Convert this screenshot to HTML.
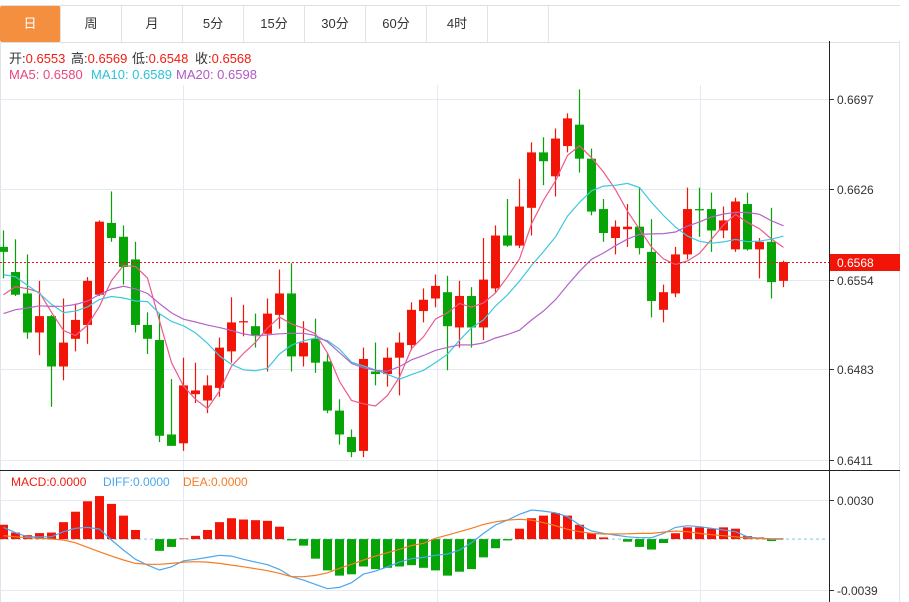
<!DOCTYPE html>
<html><head><meta charset="utf-8"><style>
html,body{margin:0;padding:0;background:#fff;}
body{width:909px;height:602px;overflow:hidden;position:relative;font-family:"Liberation Sans","Noto Sans CJK SC",sans-serif;}
.tabs{position:absolute;left:0;top:5px;width:900px;height:36px;border-top:1px solid #e0e0e0;border-bottom:1px solid #e0e0e0;}
.tab{position:absolute;top:0;height:36px;width:61px;line-height:35px;text-align:center;font-size:13px;color:#333;border-right:1px solid #e3e3e3;box-sizing:border-box;}
.tab.active{background:#f38f3f;color:#fff;border-radius:2px;}
.it{position:absolute;font-size:13px;white-space:nowrap;line-height:16px;}
.lb{color:#333}.rv{color:#f21c12}
svg{position:absolute;left:0;top:0;}
</style></head><body>
<div class="tabs">
<div class="tab active" style="left:0">日</div>
<div class="tab" style="left:61px">周</div>
<div class="tab" style="left:122px">月</div>
<div class="tab" style="left:183px">5分</div>
<div class="tab" style="left:244px">15分</div>
<div class="tab" style="left:305px">30分</div>
<div class="tab" style="left:366px">60分</div>
<div class="tab" style="left:427px">4时</div>
<div class="tab" style="left:488px"></div>
</div>
<svg id="chart" width="909" height="602"></svg>
<div>
<div class="it" style="left:9px;top:51px"><span class="lb">开:</span><span class="rv">0.6553</span></div>
<div class="it" style="left:71px;top:51px"><span class="lb">高:</span><span class="rv">0.6569</span></div>
<div class="it" style="left:132px;top:51px"><span class="lb">低:</span><span class="rv">0.6548</span></div>
<div class="it" style="left:195px;top:51px"><span class="lb">收:</span><span class="rv">0.6568</span></div>
</div>
<div>
<div class="it" style="left:9px;top:67px;color:#e8467c">MA5: 0.6580</div>
<div class="it" style="left:91px;top:67px;color:#2bc3d8">MA10: 0.6589</div>
<div class="it" style="left:176px;top:67px;color:#b05ac4">MA20: 0.6598</div>
</div>
<div>
<div class="it" style="left:11px;top:474px;font-size:12px;color:#f21c12">MACD:0.0000</div>
<div class="it" style="left:103px;top:474px;font-size:12px;color:#4aa6f0">DIFF:0.0000</div>
<div class="it" style="left:183px;top:474px;font-size:12px;color:#f57c22">DEA:0.0000</div>
</div>
<script>
const opens=[0.6580,0.6560,0.6543,0.6512,0.6525,0.6485,0.6507,0.6518,0.6542,0.6599,0.6588,0.6570,0.6518,0.6506,0.6431,0.6424,0.6463,0.6458,0.6468,0.6497,0.6520,0.6517,0.6511,0.6526,0.6543,0.6493,0.6507,0.6489,0.6450,0.6429,0.6418,0.6481,0.6479,0.6492,0.6502,0.6529,0.6539,0.6544,0.6516,0.6541,0.6516,0.6547,0.6589,0.6581,0.6611,0.6655,0.6636,0.6660,0.6677,0.6650,0.6610,0.6587,0.6594,0.6596,0.6576,0.6530,0.6543,0.6574,0.6610,0.6610,0.6593,0.6578,0.6614,0.6578,0.6584,0.6553];
const highs=[0.6593,0.6586,0.6574,0.6553,0.6526,0.6539,0.6535,0.6556,0.6601,0.6624,0.6597,0.6584,0.6528,0.6527,0.6475,0.6492,0.6488,0.6478,0.6508,0.6540,0.6534,0.6527,0.6539,0.6562,0.6567,0.6521,0.6523,0.6496,0.6459,0.6435,0.6500,0.6504,0.6500,0.6512,0.6536,0.6547,0.6558,0.6557,0.6553,0.6548,0.6587,0.6597,0.6618,0.6634,0.6663,0.6667,0.6674,0.6686,0.6705,0.6658,0.6618,0.6601,0.6614,0.6627,0.6602,0.6550,0.6580,0.6627,0.6627,0.6623,0.6612,0.6619,0.6623,0.6587,0.6611,0.6569];
const lows=[0.6555,0.6541,0.6507,0.6494,0.6453,0.6474,0.6497,0.6503,0.6541,0.6584,0.6550,0.6512,0.6495,0.6425,0.6422,0.6418,0.6456,0.6448,0.6461,0.6488,0.6509,0.6500,0.6481,0.6515,0.6481,0.6485,0.6480,0.6448,0.6423,0.6413,0.6413,0.6470,0.6469,0.6462,0.6498,0.6520,0.6532,0.6482,0.6500,0.6500,0.6506,0.6544,0.6580,0.6579,0.6589,0.6629,0.6620,0.6655,0.6639,0.6605,0.6584,0.6574,0.6580,0.6574,0.6524,0.6520,0.6540,0.6570,0.6588,0.6576,0.6587,0.6576,0.6577,0.6555,0.6539,0.6548];
const closes=[0.6576,0.6542,0.6512,0.6525,0.6485,0.6504,0.6522,0.6553,0.6600,0.6587,0.6564,0.6518,0.6507,0.6430,0.6422,0.6470,0.6466,0.6470,0.6500,0.6520,0.6521,0.6510,0.6527,0.6543,0.6493,0.6504,0.6488,0.6450,0.6431,0.6417,0.6491,0.6479,0.6492,0.6504,0.6530,0.6538,0.6549,0.6517,0.6541,0.6516,0.6554,0.6589,0.6581,0.6612,0.6655,0.6648,0.6666,0.6682,0.6650,0.6608,0.6591,0.6596,0.6596,0.6579,0.6537,0.6544,0.6574,0.6610,0.6609,0.6593,0.6601,0.6616,0.6578,0.6584,0.6552,0.6568];
const priorCloses=[0.6480,0.6485,0.6490,0.6495,0.6500,0.6495,0.6500,0.6495,0.6500,0.6520,0.6560,0.6580,0.6590,0.6570,0.6570,0.6510,0.6520,0.6540,0.6564];
const priceTicks=[0.6697,0.6626,0.6554,0.6483,0.6411];
const macdBars=[0.0011,0.0005,0.0003,0.00046,0.0005,0.0013,0.0021,0.0029,0.0033,0.0027,0.0018,0.0007,0,-0.0009,-0.0006,0.00005,0.00025,0.0007,0.0013,0.0016,0.0015,0.00145,0.0014,0.00095,-0.0001,-0.0005,-0.0015,-0.0024,-0.0028,-0.0027,-0.0021,-0.0023,-0.0022,-0.0021,-0.0020,-0.0022,-0.0024,-0.0028,-0.0025,-0.0023,-0.0014,-0.0007,-0.0001,0.0008,0.0016,0.0018,0.0020,0.0018,0.0011,0.00045,0.00013,0,-0.0002,-0.0006,-0.0008,-0.0003,0.00045,0.0009,0.0009,0.0008,0.0009,0.0008,0.00023,0.00013,-0.00015,0];
const diffVals=[0.00090,0.00049,0.00018,0.00018,0.00018,0.00057,0.00083,0.00090,0.00077,-0.00007,-0.00084,-0.00155,-0.00199,-0.00237,-0.00212,-0.00166,-0.00155,-0.00140,-0.00124,-0.00130,-0.00155,-0.00176,-0.00196,-0.00232,-0.00288,-0.00314,-0.00347,-0.00380,-0.00370,-0.00334,-0.00268,-0.00245,-0.00212,-0.00176,-0.00150,-0.00140,-0.00124,-0.00114,-0.00084,-0.00028,0.00044,0.00108,0.00146,0.00190,0.00223,0.00215,0.00202,0.00172,0.00108,0.00062,0.00044,0.00031,0.00018,0.00011,0.00011,0.00044,0.00090,0.00103,0.00095,0.00083,0.00070,0.00057,0.00018,0.00006,-0.00002,0.00001];
const deaVals=[0.00026,0.00018,0.00011,0.00006,0.00001,-0.00007,-0.00028,-0.00063,-0.00097,-0.00130,-0.00160,-0.00186,-0.00193,-0.00193,-0.00186,-0.00176,-0.00173,-0.00176,-0.00186,-0.00199,-0.00212,-0.00227,-0.00242,-0.00262,-0.00288,-0.00288,-0.00278,-0.00258,-0.00224,-0.00193,-0.00160,-0.00130,-0.00104,-0.00078,-0.00049,-0.00032,0.00006,0.00031,0.00057,0.00083,0.00113,0.00133,0.00146,0.00152,0.00146,0.00126,0.00103,0.00075,0.00057,0.00044,0.00039,0.00039,0.00041,0.00044,0.00044,0.00054,0.00062,0.00057,0.00044,0.00034,0.00026,0.00018,0.00008,0.00006,0.00003,0.00003];
const macdTicks=[0.0030,-0.0039];

const NS='http://www.w3.org/2000/svg';
const svg=document.getElementById('chart');
const PLOT_R=829;
function xAt(i){return 3.5+12*i;}
function yP(p){return (0.6776-p)/0.0000794;}
function yM(v){return 539.1-v*13043;}
function mk(tag,attrs,parent){const e=document.createElementNS(NS,tag);for(const k in attrs)e.setAttribute(k,attrs[k]);(parent||svg).appendChild(e);return e;}
const RED='#f21406',GREEN='#06a406';

let e;
e=mk('line',{x1:0.5,y1:41,x2:0.5,y2:602,stroke:'#dde4ec'});

e=mk('line',{x1:899.5,y1:41,x2:899.5,y2:602,stroke:'#dde4ec'});

[183,437,700].forEach(x=>{
 const g=mk('line',{x1:x+0.5,y1:85,x2:x+0.5,y2:602,stroke:'#e3eaf2'});
 
});
priceTicks.forEach(p=>{
 const y=Math.round(yP(p))+0.5;
 const g=mk('line',{x1:0,y1:y,x2:PLOT_R,y2:y,stroke:'#e3eaf2'});
 
 const t=mk('line',{x1:PLOT_R,y1:y,x2:PLOT_R+5,y2:y,stroke:'#333'});
 
 const tx=mk('text',{x:837,y:y+4.5,'font-size':12,fill:'#333'});tx.textContent=p.toFixed(4);
 
});
macdTicks.forEach(v=>{
 const y=Math.round(yM(v))+0.5;
 const g=mk('line',{x1:0,y1:y,x2:PLOT_R,y2:y,stroke:'#e3eaf2'});
 
 const t=mk('line',{x1:PLOT_R,y1:y,x2:PLOT_R+5,y2:y,stroke:'#333'});
 
 const tx=mk('text',{x:837,y:y+4.5,'font-size':12,fill:'#333'});tx.textContent=v.toFixed(4);
 
});
e=mk('line',{x1:0,y1:470.5,x2:900,y2:470.5,stroke:'#222'});

e=mk('line',{x1:PLOT_R+0.5,y1:41,x2:PLOT_R+0.5,y2:602,stroke:'#222'});


closes.forEach((c,i)=>{
 const o=opens[i],up=c>=o,col=up?RED:GREEN,x=xAt(i);
 const g=mk('g',{});
 
 mk('line',{x1:x,y1:yP(highs[i]),x2:x,y2:yP(lows[i]),stroke:col,'stroke-width':1.2},g);
 const top=yP(Math.max(o,c)),bot=yP(Math.min(o,c));
 mk('rect',{x:x-4.5,y:top,width:9,height:Math.max(bot-top,1.2),fill:col},g);
});

const all=priorCloses.concat(closes);
function ma(n){return closes.map((_,i)=>{const j=i+priorCloses.length;let s=0;for(let k=j-n+1;k<=j;k++)s+=all[k];return s/n;});}
[[5,'#ec5a8a','ma5-line'],[10,'#3fc8dc','ma10-line'],[20,'#b564c8','ma20-line']].forEach(([n,col,name])=>{
 const vals=ma(n);
 const d=vals.map((v,i)=>(i?'L':'M')+xAt(i).toFixed(1)+','+yP(v).toFixed(1)).join('');
 const l=mk('path',{d:d,fill:'none',stroke:col,'stroke-width':1.2});
 
});

const cy=Math.round(yP(closes[closes.length-1]))+0.5;
e=mk('line',{x1:0,y1:cy,x2:PLOT_R,y2:cy,stroke:'#f21406','stroke-dasharray':'2,2'});

e=mk('rect',{x:PLOT_R+1,y:cy-8.5,width:70,height:17,fill:'#f21406'});

e=mk('text',{x:837,y:cy+4.5,'font-size':12,fill:'#fff'});e.textContent=closes[closes.length-1].toFixed(4);


const zy=yM(0);
e=mk('line',{x1:0,y1:zy,x2:PLOT_R-3,y2:zy,stroke:'#a9d9ee','stroke-width':1.5,'stroke-dasharray':'3,3'});

macdBars.forEach((v,i)=>{
 if(v===0)return;
 const y1=yM(v),x=xAt(i);
 const r=mk('rect',{x:x-4.5,y:Math.min(y1,zy),width:9,height:Math.abs(y1-zy),fill:v>0?RED:GREEN});
 
});
[[diffVals,'#4aa6f0','diff-line'],[deaVals,'#f57c22','dea-line']].forEach(([vals,col,name])=>{
 const d=vals.map((v,i)=>(i?'L':'M')+xAt(i).toFixed(1)+','+yM(v).toFixed(1)).join('');
 const l=mk('path',{d:d,fill:'none',stroke:col,'stroke-width':1.2});
 
});
</script>
</body></html>
